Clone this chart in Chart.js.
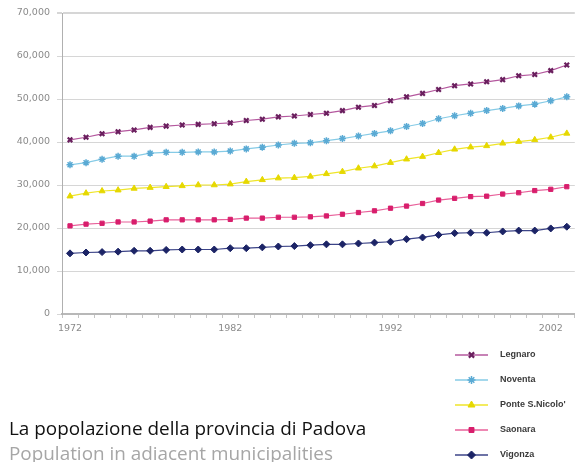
<!DOCTYPE html>
<html><head><meta charset="utf-8">
<script src="https://cdn.jsdelivr.net/npm/chart.js@4.4.1/dist/chart.umd.min.js"></script>
<style>
html,body{margin:0;padding:0;width:575px;height:462px;overflow:hidden;background:#fff;}
#wrap{position:absolute;left:0;top:0;width:581px;height:462px;}
.t{position:absolute;left:9px;font-family:"Open Sans",sans-serif;white-space:nowrap;line-height:20px;font-size:18.9px;}
#title{top:418px;color:#111;}
#sub{top:443px;color:#a6a6a6;}
</style></head><body>
<div id="wrap"><canvas id="c" width="581" height="462"></canvas></div>
<div class="t" id="title">La popolazione della provincia di Padova</div>
<div class="t" id="sub">Population in adiacent municipalities</div>
<script>
const years = [1972,1973,1974,1975,1976,1977,1978,1979,1980,1981,1982,1983,1984,1985,1986,1987,
  1988,1989,1990,1991,1992,1993,1994,1995,1996,1997,1998,1999,2000,2001,2002,2003];
const shownYears = [1972, 1982, 1992, 2002];
const yTicks = [0, 10000, 20000, 30000, 40000, 50000, 60000, 70000];
const seriesNames = ["Legnaro", "Noventa", "Ponte S.Nicolo'", "Saonara", "Vigonza"];

const legnaro = [40500,41100,41900,42400,42800,43400,43700,43950,44100,44250,44450,45000,45300,45850,46050,46400,
  46700,47300,48100,48500,49600,50500,51300,52200,53100,53500,54000,54500,55400,55700,56600,57900];
const noventa = [34700,35200,36000,36700,36700,37400,37600,37600,37700,37700,37900,38400,38800,39300,39700,39800,
  40300,40800,41400,42000,42600,43600,44300,45400,46100,46700,47300,47800,48400,48800,49600,50500];
const ponte = [27400,28100,28600,28800,29200,29400,29600,29800,30000,30000,30200,30800,31200,31600,31700,32000,
  32600,33100,33900,34400,35200,36000,36600,37500,38300,38800,39100,39700,40100,40500,41100,42000];
const saonara = [20500,20900,21100,21400,21400,21600,21900,21900,21900,21900,22000,22300,22300,22500,22500,22600,
  22800,23200,23600,24000,24600,25100,25700,26500,26900,27300,27400,27900,28200,28700,29000,29600];
const vigonza = [14100,14300,14400,14500,14700,14700,14900,15000,15000,15000,15300,15300,15500,15700,15800,16000,
  16200,16200,16400,16600,16800,17400,17800,18400,18800,18900,18900,19200,19400,19400,19900,20300];

const styles = [
  {line:'#b4589e', pt:'#6a1f5e', shape:'crossRot', r:3.2, bw:2.2},
  {line:'#86cbe6', pt:'#5aaad4', shape:'star', r:3.5, bw:1.5},
  {line:'#efe52a', pt:'#e6d800', shape:'triangle', r:3.5, bw:1},
  {line:'#e8609a', pt:'#d81e6c', shape:'rect', r:3, bw:1},
  {line:'#3c4488', pt:'#1c2466', shape:'rectRot', r:3.5, bw:1}
];
const values = [legnaro, noventa, ponte, saonara, vigonza];

const datasets = seriesNames.map((n, i) => ({
  label: n,
  data: values[i],
  borderColor: styles[i].line,
  borderWidth: 1.2,
  pointStyle: styles[i].shape,
  pointRadius: styles[i].r,
  pointBorderWidth: styles[i].bw,
  pointBorderColor: styles[i].pt,
  pointBackgroundColor: styles[i].pt,
  tension: 0,
  fill: false
}));

const legendPlugin = {
  id: 'sideLegend',
  afterDraw(chart) {
    const ctx = chart.ctx;
    const x0 = 455, x1 = 488, tx = 500, y0 = 355, dy = 25;
    ctx.save();
    chart.data.datasets.forEach((ds, i) => {
      const y = y0 + i * dy;
      ctx.strokeStyle = ds.borderColor;
      ctx.lineWidth = 1.5;
      ctx.beginPath(); ctx.moveTo(x0, y); ctx.lineTo(x1, y); ctx.stroke();
      const opts = {pointStyle: ds.pointStyle, radius: ds.pointRadius + 0.5, rotation: 0, borderWidth: ds.pointBorderWidth};
      ctx.strokeStyle = ds.pointBorderColor;
      ctx.fillStyle = ds.pointBackgroundColor;
      ctx.lineWidth = ds.pointBorderWidth;
      Chart.helpers.drawPoint(ctx, opts, (x0 + x1) / 2, y);
      ctx.fillStyle = '#3a3a3a';
      ctx.font = 'bold 9px "Liberation Sans", Arial, sans-serif';
      ctx.textBaseline = 'middle';
      ctx.textAlign = 'left';
      ctx.fillText(ds.label, tx, y);
    });
    ctx.restore();
  }
};

new Chart(document.getElementById('c'), {
  type: 'line',
  data: { labels: years, datasets },
  plugins: [legendPlugin],
  options: {
    responsive: false,
    animation: false,
    devicePixelRatio: 1,
    layout: { padding: { left: 0, top: 13, right: 0, bottom: 118 } },
    plugins: { legend: { display: false }, tooltip: { enabled: false } },
    scales: {
      x: {
        type: 'category',
        offset: true,
        afterFit(s) { s.height = 30; },
        grid: { offset: true, drawOnChartArea: false, drawTicks: true, tickLength: 4, color: '#c4c4c4' },
        border: { color: '#b8b8b8', width: 2 },
        ticks: {
          autoSkip: false, maxRotation: 0, padding: 5, color: '#8a8a8a',
          font: { family: '"DejaVu Sans", sans-serif', size: 9.5 },
          callback(v, i) { const y = years[i]; return shownYears.includes(y) ? String(y) : ''; }
        }
      },
      y: {
        min: 0, max: 70000,
        afterFit(s) { s.width = 62; },
        afterBuildTicks(s) { s.ticks = yTicks.map(v => ({ value: v })); },
        grid: {
          color: '#d6d6d6',
          lineWidth: c => (c.tick && c.tick.value === 70000) ? 2 : 1,
          drawTicks: true, tickLength: 5
        },
        border: { color: '#b0b0b0', width: 1 },
        ticks: {
          padding: 7, color: '#8a8a8a',
          font: { family: '"DejaVu Sans", sans-serif', size: 9.5 },
          callback: v => v.toLocaleString('en-US')
        }
      }
    }
  }
});
</script>
</body></html>
